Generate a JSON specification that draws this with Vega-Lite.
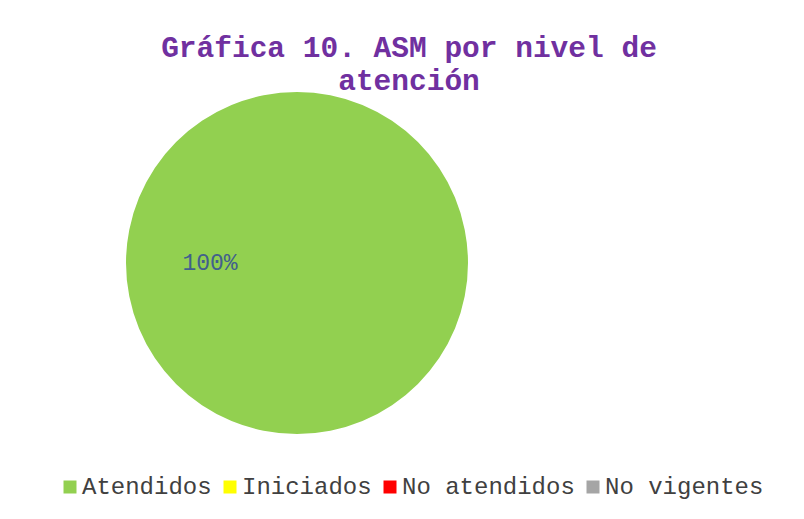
{
  "$schema": "https://vega.github.io/schema/vega-lite/v6.json",
  "width": 342,
  "height": 342,
  "autosize": {"type": "none"},
  "padding": {"left": 126, "top": 92, "right": 336, "bottom": 85},
  "background": "white",
  "title": {
    "text": ["Gráfica 10. ASM por nivel de", "atención"],
    "anchor": "middle",
    "frame": "group",
    "dx": 112,
    "font": "Liberation Mono",
    "fontSize": 29.5,
    "fontWeight": "bold",
    "color": "#7030A0",
    "lineHeight": 33,
    "baseline": "top",
    "offset": -4
  },
  "data": {
    "values": [
      {"nivel": "Atendidos", "valor": 1},
      {"nivel": "Iniciados", "valor": 0},
      {"nivel": "No atendidos", "valor": 0},
      {"nivel": "No vigentes", "valor": 0}
    ]
  },
  "encoding": {
    "theta": {
      "field": "valor",
      "type": "quantitative",
      "stack": true,
      "scale": {"range": [1.5707963, 7.8539816]}
    }
  },
  "layer": [
    {
      "mark": {"type": "arc", "outerRadius": 171, "strokeWidth": 0},
      "encoding": {
        "color": {
          "field": "nivel",
          "type": "nominal",
          "sort": ["Atendidos", "Iniciados", "No atendidos", "No vigentes"],
          "scale": {
            "domain": ["Atendidos", "Iniciados", "No atendidos", "No vigentes"],
            "range": ["#92D050", "#FFFF00", "#FF0000", "#A5A5A5"]
          },
          "legend": {
            "orient": "none",
            "direction": "horizontal",
            "legendX": -68,
            "legendY": 383,
            "title": null,
            "symbolType": "square",
            "symbolSize": 169,
            "symbolStrokeWidth": 0,
            "labelFont": "Liberation Mono",
            "labelFontSize": 24,
            "labelColor": "#404040",
            "labelOffset": 0,
            "columnPadding": 6,
            "labelLimit": 400
          }
        }
      }
    },
    {
      "transform": [{"filter": "datum.valor > 0"}],
      "mark": {
        "type": "text",
        "radius": 87,
        "font": "Liberation Mono",
        "fontSize": 23,
        "color": "#41608C",
        "align": "center",
        "baseline": "middle"
      },
      "encoding": {
        "text": {"field": "valor", "type": "quantitative", "format": ".0%"}
      }
    }
  ],
  "config": {"view": {"stroke": null}}
}
